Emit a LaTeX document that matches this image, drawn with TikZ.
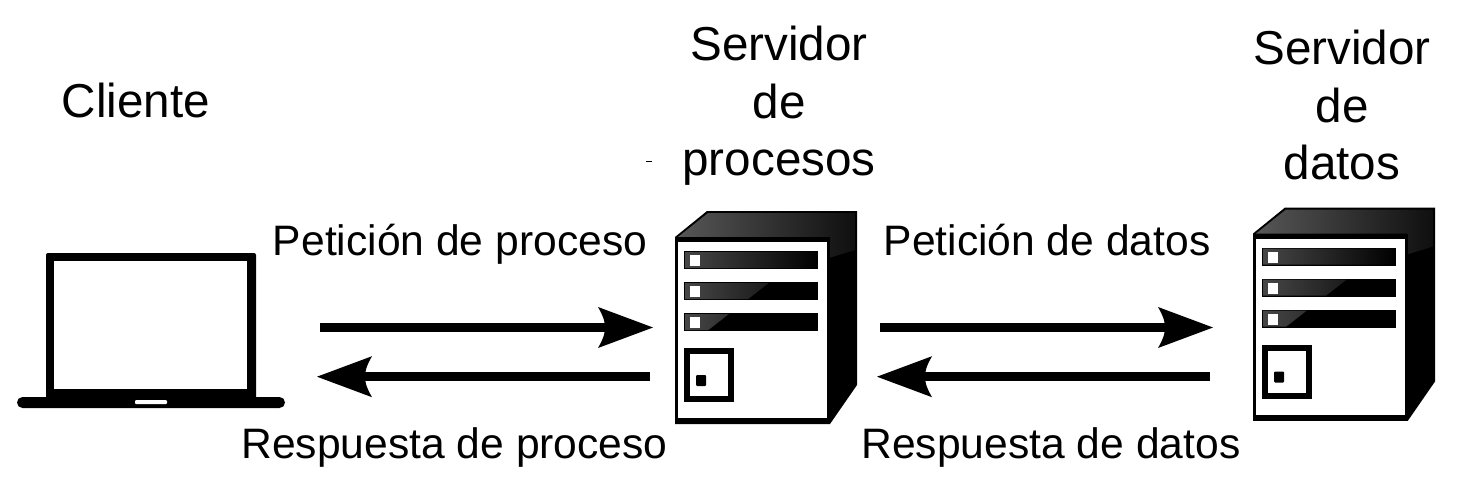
\documentclass[tikz,border=0pt]{standalone}
\usepackage{fontspec}
\setmainfont{Liberation Sans}
\usetikzlibrary{arrows.meta}
\pgfdeclarearrow{
  name=SwoopHead,
  parameters={x},
  setup code={\pgfarrowssettipend{0pt}\pgfarrowssetlineend{-45pt}\pgfarrowssetvisualbackend{-48pt}\pgfarrowssetbackend{-55pt}},
  drawing code={
    \pgfpathmoveto{\pgfpoint{0pt}{0pt}}
    \pgfpathlineto{\pgfpoint{-55pt}{20.5pt}}
    \pgfpathcurveto{\pgfpoint{-49pt}{10pt}}{\pgfpoint{-48pt}{5pt}}{\pgfpoint{-48pt}{0pt}}
    \pgfpathcurveto{\pgfpoint{-48pt}{-5pt}}{\pgfpoint{-49pt}{-10pt}}{\pgfpoint{-55pt}{-20.5pt}}
    \pgfpathclose
    \pgfusepathqfill
  }
}
\tikzset{
  flow/.style={line width=8.5pt,-{SwoopHead},black},
  bigtext/.style={font=\fontsize{47.6}{57.5}\selectfont,align=center,inner sep=0pt},
  flowtext/.style={font=\fontsize{42.6}{50}\selectfont,anchor=base,inner sep=0pt},
  serverbox/.pic={
    % body
    \fill[black] (675,237) -- (707,211) -- (857,211) -- (857,385) -- (830,424) -- (675,424) -- cycle;
    % top face with gloss running over the upper side
    \shade[left color=black!66,right color=black!94] (678,237) -- (708,213) -- (855,213) -- (855,250) -- (829,258) -- (829,237) -- cycle;
    % front face
    \fill[black] (675,237) rectangle (830,424);
    \fill[white] (678,242) rectangle (827,418);
    % drive bars
    \fill[black] (684,251) rectangle (818,269);
    \fill[black] (684,282) rectangle (818,300);
    \fill[black] (684,313) rectangle (818,331);
    \begin{scope}
      \clip (685,252) rectangle (817,268) (685,283) rectangle (817,299) (685,314) rectangle (817,330);
      \shade[left color=black!72,right color=black] (684,240) -- (818,240) -- (818,270) -- (792,270) -- (770,282) -- (684,349) -- cycle;
    \end{scope}
    \fill[white] (690,255) rectangle (700,266);
    \fill[white] (690,286) rectangle (700,297);
    \fill[white] (690,317) rectangle (700,328);
    % door
    \draw[black,line width=6pt] (687,351) rectangle (731,399);
    \fill[black,rounded corners=1pt] (696,375) rectangle (706,386);
  }
}
\begin{document}
\begin{tikzpicture}[x=1pt,y=-1pt]
\useasboundingbox (0,0) rectangle (1464,480);
% laptop
\fill[black,rounded corners=2pt] (46,253) rectangle (256,400);
\fill[white] (54,261) rectangle (247,389);
\fill[black,rounded corners=5.5pt] (17,397) rectangle (285,408);
\fill[white,rounded corners=1pt] (135,400) rectangle (167,404);
% servers
\pic {serverbox};
\pic[shift={(578,-3.5)}] {serverbox};
\fill[black] (646,160.5) rectangle (652,161.5);
% labels
\node[bigtext] (cliente) at (136,100) {Cliente};
\node[bigtext] (servA) at (779,106) {Servidor\\de\\procesos};
\node[bigtext] (servB) at (1342,105) {Servidor\\de\\datos};
\node[flowtext] (petA) at (460,255) {Petición de proceso};
\node[flowtext] (resA) at (454.5,458) {Respuesta de proceso};
\node[flowtext] (petB) at (1047,255) {Petición de datos};
\node[flowtext] (resB) at (1051,458) {Respuesta de datos};
% connector ends
\coordinate (cliOut) at (320,327.5);
\coordinate (srvAin) at (653,327.5);
\coordinate (srvAback) at (650,376.7);
\coordinate (cliIn) at (317,376.7);
\coordinate (srvAout) at (880,327.5);
\coordinate (srvBin) at (1213,327.5);
\coordinate (srvBback) at (1210,376.7);
\coordinate (srvAret) at (877,376.7);
\draw[flow] (cliOut) -- (srvAin);
\draw[flow] (srvAback) -- (cliIn);
\draw[flow] (srvAout) -- (srvBin);
\draw[flow] (srvBback) -- (srvAret);
\end{tikzpicture}
\end{document}
